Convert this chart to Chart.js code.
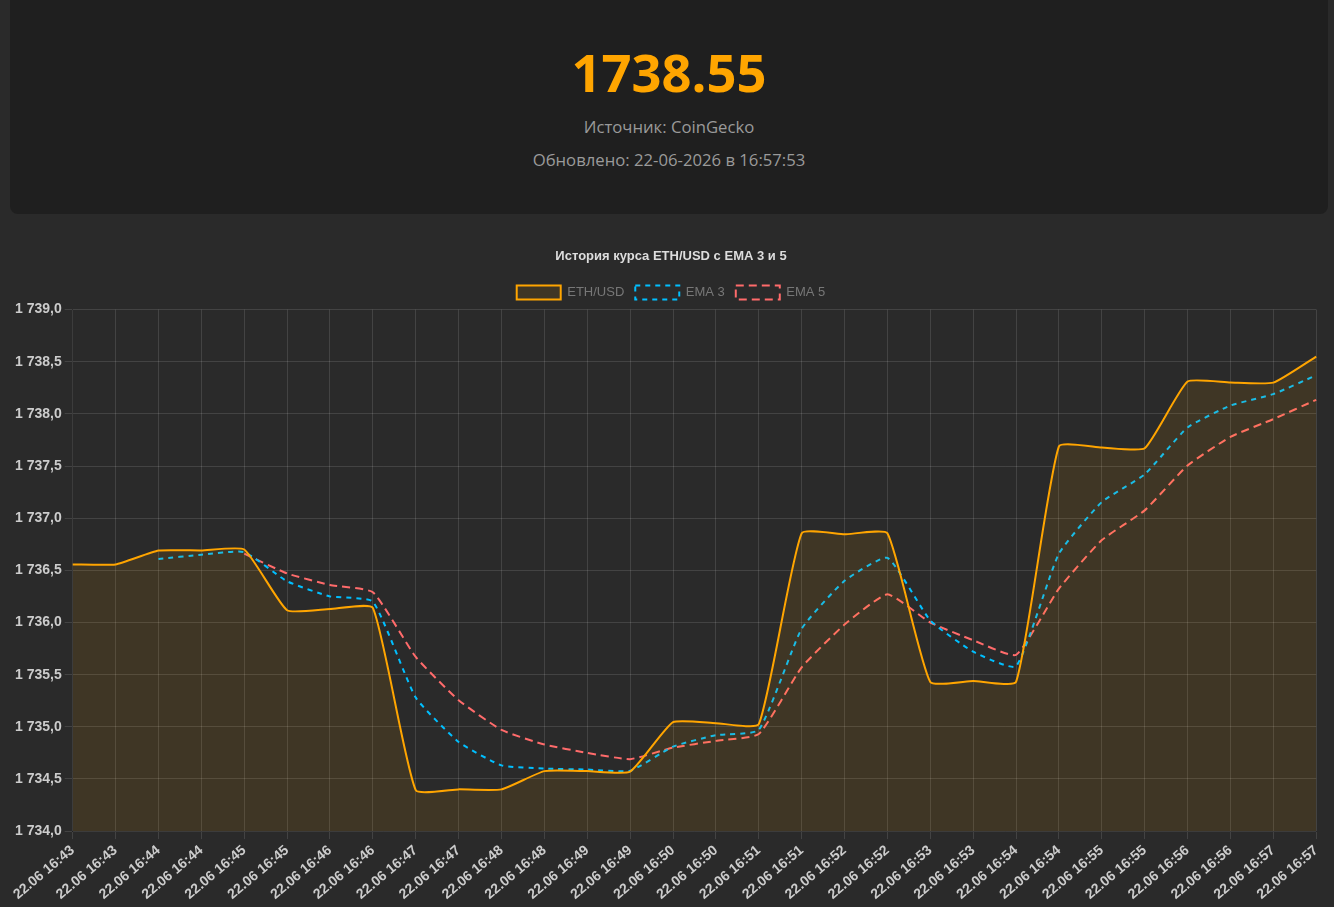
<!DOCTYPE html>
<html lang="ru">
<head>
<meta charset="utf-8">
<script src="https://cdn.jsdelivr.net/npm/chart.js@4/dist/chart.umd.min.js"></script>
<style>
  html, body { margin: 0; padding: 0; background: #2a2a2a; width: 1334px; height: 907px; overflow: hidden; font-family: "Open Sans", "Noto Sans", sans-serif; }
  .card { position: absolute; left: 10px; top: 0; width: 1318px; height: 214px; background: #1f1f1f; border-radius: 0 0 8px 8px; text-align: center; }
  .price { position: absolute; left: 0; right: 0; top: 36px; font-size: 52.5px; font-weight: 700; color: #ffa500; line-height: 72px; }
  .src { position: absolute; left: 0; right: 0; top: 114px; font-size: 16.7px; color: #9a9a9a; line-height: 26px; }
  .upd { position: absolute; left: 0; right: 0; top: 147px; font-size: 16.7px; color: #9a9a9a; line-height: 26px; }
  .wrap { position: absolute; left: 12px; top: 237px; width: 1318px; height: 669px; }
</style>
</head>
<body>
<div class="card">
  <div class="price">1738.55</div>
  <div class="src">Источник: CoinGecko</div>
  <div class="upd">Обновлено: 22-06-2026 в 16:57:53</div>
</div>
<div class="wrap"><canvas id="c"></canvas></div>
<script>
const labels = [
  "22.06 16:43","22.06 16:43","22.06 16:44","22.06 16:44","22.06 16:45","22.06 16:45",
  "22.06 16:46","22.06 16:46","22.06 16:47","22.06 16:47","22.06 16:48","22.06 16:48",
  "22.06 16:49","22.06 16:49","22.06 16:50","22.06 16:50","22.06 16:51","22.06 16:51",
  "22.06 16:52","22.06 16:52","22.06 16:53","22.06 16:53","22.06 16:54","22.06 16:54",
  "22.06 16:55","22.06 16:55","22.06 16:56","22.06 16:56","22.06 16:57","22.06 16:57"
];
const priceValues = [
  1736.557, 1736.557, 1736.69, 1736.69, 1736.70, 1736.117,
  1736.13, 1736.14, 1734.393, 1734.40, 1734.40, 1734.575,
  1734.575, 1734.57, 1735.044, 1735.035, 1735.025, 1736.855,
  1736.845, 1736.855, 1735.43, 1735.44, 1735.43, 1737.688,
  1737.678, 1737.67, 1738.31, 1738.30, 1738.30, 1738.55
];
const ema3Values = [
  null, null, 1736.608, 1736.65, 1736.675, 1736.395,
  1736.25, 1736.20, 1735.28, 1734.855, 1734.63, 1734.60,
  1734.59, 1734.578, 1734.81, 1734.92, 1734.97, 1735.94,
  1736.40, 1736.62, 1736.02, 1735.72, 1735.58, 1736.66,
  1737.155, 1737.42, 1737.87, 1738.08, 1738.19, 1738.37
];
const ema5Values = [
  null, null, null, null, 1736.66, 1736.47,
  1736.36, 1736.29, 1735.67, 1735.255, 1734.97, 1734.83,
  1734.75, 1734.69, 1734.80, 1734.865, 1734.93, 1735.57,
  1735.98, 1736.27, 1736.00, 1735.83, 1735.69, 1736.325,
  1736.79, 1737.075, 1737.505, 1737.78, 1737.95, 1738.135
];

Chart.defaults.font.family = '"Liberation Sans", Arial, Helvetica, sans-serif';
const nf = new Intl.NumberFormat('ru-RU', { minimumFractionDigits: 1, maximumFractionDigits: 1 });

new Chart(document.getElementById('c'), {
  type: 'line',
  data: {
    labels: labels,
    datasets: [
      { label: 'ETH/USD', data: priceValues, borderColor: '#ffa500', backgroundColor: 'rgba(255,165,0,0.1)', borderWidth: 2, fill: true, tension: 0.15, pointRadius: 0 },
      { label: 'EMA 3', data: ema3Values, borderColor: '#00bfff', backgroundColor: 'transparent', borderWidth: 2, borderDash: [5, 5], fill: false, tension: 0.15, pointRadius: 0 },
      { label: 'EMA 5', data: ema5Values, borderColor: '#ff6b6b', backgroundColor: 'transparent', borderWidth: 2, borderDash: [8, 5], fill: false, tension: 0.15, pointRadius: 0 }
    ]
  },
  options: {
    responsive: true,
    maintainAspectRatio: false,
    animation: false,
    plugins: {
      title: { display: true, text: 'История курса ETH/USD с EMA 3 и 5', color: '#dddddd', font: { size: 13, weight: 'bold' }, padding: { top: 12, bottom: 10 } },
      legend: { labels: { color: '#777777', font: { size: 13 }, boxWidth: 44, boxHeight: 14, padding: 11 } },
      tooltip: { enabled: false }
    },
    scales: {
      x: {
        grid: { color: 'rgba(255,255,255,0.12)', tickLength: 8 },
        ticks: { color: '#cccccc', font: { size: 14, weight: 'bold' }, autoSkip: false, maxRotation: 40, minRotation: 40 }
      },
      y: {
        min: 1734, max: 1739,
        grid: { color: 'rgba(255,255,255,0.12)', tickLength: 8 },
        ticks: { color: '#cccccc', font: { size: 14, weight: 'bold' }, stepSize: 0.5, callback: v => nf.format(v) }
      }
    }
  }
});
</script>
</body>
</html>
